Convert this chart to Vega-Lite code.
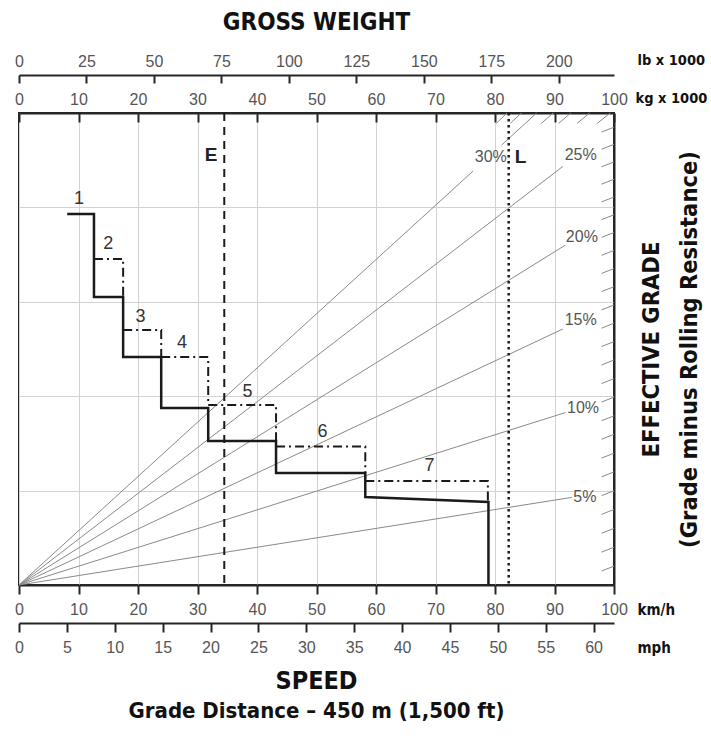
{
  "$schema": "https://vega.github.io/schema/vega-lite/v6.json",
  "width": 595,
  "height": 472,
  "autosize": {"type": "none"},
  "padding": {"left": 19, "top": 113, "right": 97, "bottom": 151},
  "background": "white",
  "config": {
    "view": {"stroke": "#262626", "strokeWidth": 2},
    "font": "Liberation Sans",
    "axis": {"labelFont": "Liberation Sans", "labelFontSize": 16, "labelColor": "#555", "labelFlush": false, "labelOverlap": false, "domainColor": "#262626", "domainWidth": 2, "tickColor": "#262626", "tickWidth": 2, "titleFont": "DejaVu Sans Condensed, sans-serif", "titleFontWeight": "bold", "titleColor": "#111", "grid": false}
  },
  "title": {
    "text": "SPEED",
    "subtitle": "Grade Distance – 450 m (1,500 ft)",
    "orient": "bottom",
    "anchor": "middle",
    "offset": 14,
    "font": "DejaVu Sans Condensed, sans-serif",
    "fontSize": 25,
    "fontWeight": "bold",
    "color": "#111",
    "subtitleFont": "DejaVu Sans Condensed, sans-serif",
    "subtitleFontSize": 22,
    "subtitleFontWeight": "bold",
    "subtitleColor": "#111",
    "subtitlePadding": 7
  },
  "datasets": {
    "grades": [
      {"g": "5", "seg": "a", "o": 0, "x": 0, "y": 0}, {"g": "5", "seg": "a", "o": 1, "x": 92.9, "y": 4.64},
      {"g": "10", "seg": "a", "o": 0, "x": 0, "y": 0}, {"g": "10", "seg": "a", "o": 1, "x": 91.8, "y": 9.13},
      {"g": "15", "seg": "a", "o": 0, "x": 0, "y": 0}, {"g": "15", "seg": "a", "o": 1, "x": 91.4, "y": 13.56},
      {"g": "20", "seg": "a", "o": 0, "x": 0, "y": 0}, {"g": "20", "seg": "a", "o": 1, "x": 91.8, "y": 18.0},
      {"g": "25", "seg": "a", "o": 0, "x": 0, "y": 0}, {"g": "25", "seg": "a", "o": 1, "x": 91.4, "y": 22.17},
      {"g": "30", "seg": "a", "o": 0, "x": 0, "y": 0}, {"g": "30", "seg": "a", "o": 1, "x": 76.3, "y": 21.92},
      {"g": "30", "seg": "b", "o": 0, "x": 81.1, "y": 23.3}, {"g": "30", "seg": "b", "o": 1, "x": 87.0, "y": 25.0}
    ],
    "hatch": [
      {"x": 97.9, "y": 0.74, "x2": 100, "y2": 1.0},
      {"x": 97.9, "y": 1.74, "x2": 100, "y2": 2.0},
      {"x": 97.9, "y": 2.74, "x2": 100, "y2": 3.0},
      {"x": 97.9, "y": 3.74, "x2": 100, "y2": 4.0},
      {"x": 97.9, "y": 4.73, "x2": 100, "y2": 4.99},
      {"x": 97.9, "y": 5.73, "x2": 100, "y2": 5.99},
      {"x": 97.9, "y": 6.72, "x2": 100, "y2": 6.98},
      {"x": 97.9, "y": 7.72, "x2": 100, "y2": 7.98},
      {"x": 97.9, "y": 8.70, "x2": 100, "y2": 8.96},
      {"x": 97.9, "y": 9.69, "x2": 100, "y2": 9.95},
      {"x": 97.9, "y": 10.67, "x2": 100, "y2": 10.93},
      {"x": 97.9, "y": 11.65, "x2": 100, "y2": 11.92},
      {"x": 97.9, "y": 12.63, "x2": 100, "y2": 12.89},
      {"x": 97.9, "y": 13.60, "x2": 100, "y2": 13.87},
      {"x": 97.9, "y": 14.57, "x2": 100, "y2": 14.83},
      {"x": 97.9, "y": 15.54, "x2": 100, "y2": 15.80},
      {"x": 97.9, "y": 16.50, "x2": 100, "y2": 16.76},
      {"x": 97.9, "y": 17.46, "x2": 100, "y2": 17.72},
      {"x": 97.9, "y": 18.41, "x2": 100, "y2": 18.67},
      {"x": 97.9, "y": 19.35, "x2": 100, "y2": 19.61},
      {"x": 97.9, "y": 20.29, "x2": 100, "y2": 20.55},
      {"x": 97.9, "y": 21.23, "x2": 100, "y2": 21.49},
      {"x": 97.9, "y": 22.15, "x2": 100, "y2": 22.41},
      {"x": 97.9, "y": 23.08, "x2": 100, "y2": 23.34},
      {"x": 97.9, "y": 23.99, "x2": 100, "y2": 24.25},
      {"x": 97.18, "y": 24.45, "x2": 99.36, "y2": 25.0},
      {"x": 93.79, "y": 24.45, "x2": 95.90, "y2": 25.0},
      {"x": 90.69, "y": 24.45, "x2": 92.73, "y2": 25.0},
      {"x": 87.79, "y": 24.45, "x2": 89.77, "y2": 25.0},
      {"x": 82.57, "y": 24.45, "x2": 84.43, "y2": 25.0},
      {"x": 80.22, "y": 24.45, "x2": 82.02, "y2": 25.0}
    ],
    "solid": [
      {"o": 0, "x": 8.1, "y": 19.65}, {"o": 1, "x": 12.6, "y": 19.65}, {"o": 2, "x": 12.6, "y": 15.25},
      {"o": 3, "x": 17.5, "y": 15.25}, {"o": 4, "x": 17.5, "y": 12.08}, {"o": 5, "x": 23.9, "y": 12.08},
      {"o": 6, "x": 23.9, "y": 9.37}, {"o": 7, "x": 31.8, "y": 9.37}, {"o": 8, "x": 31.8, "y": 7.63},
      {"o": 9, "x": 43.2, "y": 7.63}, {"o": 10, "x": 43.2, "y": 5.93}, {"o": 11, "x": 58.2, "y": 5.93},
      {"o": 12, "x": 58.2, "y": 4.66}, {"o": 13, "x": 78.9, "y": 4.4}, {"o": 14, "x": 78.9, "y": 0}
    ],
    "dashdot": [
      {"gear": "2", "o": 0, "x": 12.6, "y": 17.27}, {"gear": "2", "o": 1, "x": 17.5, "y": 17.27}, {"gear": "2", "o": 2, "x": 17.5, "y": 15.25},
      {"gear": "3", "o": 0, "x": 17.5, "y": 13.5}, {"gear": "3", "o": 1, "x": 23.9, "y": 13.5}, {"gear": "3", "o": 2, "x": 23.9, "y": 12.08},
      {"gear": "4", "o": 0, "x": 23.9, "y": 12.08}, {"gear": "4", "o": 1, "x": 31.8, "y": 12.08}, {"gear": "4", "o": 2, "x": 31.8, "y": 9.53},
      {"gear": "5", "o": 0, "x": 31.8, "y": 9.53}, {"gear": "5", "o": 1, "x": 43.2, "y": 9.53}, {"gear": "5", "o": 2, "x": 43.2, "y": 7.63},
      {"gear": "6", "o": 0, "x": 43.2, "y": 7.33}, {"gear": "6", "o": 1, "x": 58.2, "y": 7.33}, {"gear": "6", "o": 2, "x": 58.2, "y": 5.93},
      {"gear": "7", "o": 0, "x": 58.2, "y": 5.51}, {"gear": "7", "o": 1, "x": 78.8, "y": 5.51}, {"gear": "7", "o": 2, "x": 78.8, "y": 4.4}
    ],
    "gearlabels": [
      {"t": "1", "x": 10.1, "y": 20.45}, {"t": "2", "x": 15.0, "y": 18.06}, {"t": "3", "x": 20.4, "y": 14.19},
      {"t": "4", "x": 27.4, "y": 12.82}, {"t": "5", "x": 38.4, "y": 10.22}, {"t": "6", "x": 51.0, "y": 8.10},
      {"t": "7", "x": 69.0, "y": 6.30}
    ],
    "gradelabels": [
      {"t": "5%", "x": 95.1, "y": 4.66}, {"t": "10%", "x": 94.8, "y": 9.37}, {"t": "15%", "x": 94.4, "y": 14.04},
      {"t": "20%", "x": 94.6, "y": 18.43}, {"t": "25%", "x": 94.4, "y": 22.78}, {"t": "30%", "x": 79.3, "y": 22.67}
    ],
    "limits": [
      {"t": "E", "x": 32.3, "y": 22.78}, {"t": "L", "x": 84.3, "y": 22.67}
    ]
  },
  "resolve": {"scale": {"x": "independent"}, "axis": {"x": "independent"}},
  "layer": [
    {
      "layer": [
        {
          "data": {"name": "grades"},
          "mark": {"type": "line", "stroke": "#8a8a8a", "strokeWidth": 1},
          "encoding": {
            "x": {"field": "x", "type": "quantitative", "scale": {"domain": [0, 100], "nice": false, "zero": false},
              "axis": {"orient": "bottom", "values": [0, 10, 20, 30, 40, 50, 60, 70, 80, 90, 100], "grid": true, "gridColor": "#d2d2d2", "gridWidth": 1, "tickSize": 9, "labelPadding": 7, "title": "km/h", "titleFontSize": 15, "titleX": 618, "titleY": 24, "titleAlign": "left", "titleAnchor": null, "titleBaseline": "middle", "titleAngle": 0}},
            "y": {"field": "y", "type": "quantitative", "scale": {"domain": [0, 25], "nice": false, "zero": false},
              "axis": {"orient": "right", "values": [0, 5, 10, 15, 20, 25], "grid": true, "gridColor": "#d2d2d2", "gridWidth": 1, "labels": false, "ticks": false, "title": ["EFFECTIVE GRADE", "(Grade minus Rolling Resistance)"], "titleFontSize": 23.5, "titleLineHeight": 38, "titleAngle": 270, "titleX": 37, "titleY": 236, "titleAlign": "center", "titleBaseline": "middle"}},
            "detail": {"field": "seg"},
            "color": {"field": "g", "legend": null, "scale": {"range": ["#8a8a8a"]}},
            "order": {"field": "o"}
          }
        },
        {
          "data": {"name": "hatch"},
          "mark": {"type": "rule", "stroke": "#8a8a8a", "strokeWidth": 1},
          "encoding": {
            "x": {"field": "x", "type": "quantitative"},
            "y": {"field": "y", "type": "quantitative"},
            "x2": {"field": "x2"},
            "y2": {"field": "y2"}
          }
        },
        {
          "data": {"values": [{"x": 34.5}]},
          "mark": {"type": "rule", "stroke": "#1a1a1a", "strokeWidth": 2, "strokeDash": [8, 6]},
          "encoding": {"x": {"field": "x", "type": "quantitative"}}
        },
        {
          "data": {"values": [{"x": 82.3}]},
          "mark": {"type": "rule", "stroke": "#1a1a1a", "strokeWidth": 2.5, "strokeDash": [2.5, 3.5]},
          "encoding": {"x": {"field": "x", "type": "quantitative"}}
        },
        {
          "data": {"name": "solid"},
          "mark": {"type": "line", "stroke": "#1a1a1a", "strokeWidth": 2.5},
          "encoding": {
            "x": {"field": "x", "type": "quantitative"},
            "y": {"field": "y", "type": "quantitative"},
            "order": {"field": "o"}
          }
        },
        {
          "data": {"name": "dashdot"},
          "mark": {"type": "line", "stroke": "#1a1a1a", "strokeWidth": 2, "strokeDash": [9, 4, 2, 4]},
          "encoding": {
            "x": {"field": "x", "type": "quantitative"},
            "y": {"field": "y", "type": "quantitative"},
            "detail": {"field": "gear"},
            "order": {"field": "o"}
          }
        },
        {
          "data": {"name": "gearlabels"},
          "mark": {"type": "text", "font": "Liberation Sans", "fontSize": 18, "fill": "#333", "align": "center", "baseline": "middle"},
          "encoding": {
            "x": {"field": "x", "type": "quantitative"},
            "y": {"field": "y", "type": "quantitative"},
            "text": {"field": "t"}
          }
        },
        {
          "data": {"name": "gradelabels"},
          "mark": {"type": "text", "font": "Liberation Sans", "fontSize": 16, "fill": "#555", "align": "center", "baseline": "middle"},
          "encoding": {
            "x": {"field": "x", "type": "quantitative"},
            "y": {"field": "y", "type": "quantitative"},
            "text": {"field": "t"}
          }
        },
        {
          "data": {"name": "limits"},
          "mark": {"type": "text", "font": "Liberation Sans", "fontSize": 19, "fontWeight": "bold", "fill": "#222", "align": "center", "baseline": "middle"},
          "encoding": {
            "x": {"field": "x", "type": "quantitative"},
            "y": {"field": "y", "type": "quantitative"},
            "text": {"field": "t"}
          }
        }
      ]
    },
    {
      "data": {"values": [{"mph": 0}]},
      "mark": {"type": "rule", "strokeOpacity": 0},
      "encoding": {
        "x": {"field": "mph", "type": "quantitative", "scale": {"domain": [0, 62.137], "nice": false, "zero": false},
          "axis": {"orient": "bottom", "offset": 38, "values": [0, 5, 10, 15, 20, 25, 30, 35, 40, 45, 50, 55, 60], "tickSize": 9, "labelPadding": 7, "title": "mph", "titleFontSize": 15, "titleX": 618, "titleY": 24, "titleAlign": "left", "titleBaseline": "middle", "titleAngle": 0}}
      }
    },
    {
      "data": {"values": [{"kg": 0}]},
      "mark": {"type": "rule", "strokeOpacity": 0},
      "encoding": {
        "x": {"field": "kg", "type": "quantitative", "scale": {"domain": [0, 100], "nice": false, "zero": false},
          "axis": {"orient": "top", "offset": 0, "values": [0, 10, 20, 30, 40, 50, 60, 70, 80, 90, 100], "tickSize": -9, "labelPadding": 15, "title": "kg x 1000", "titleFontSize": 14.5, "titleX": 616, "titleY": -15, "titleAlign": "left", "titleBaseline": "middle", "titleAngle": 0}}
      }
    },
    {
      "data": {"values": [{"lb": 0}]},
      "mark": {"type": "rule", "strokeOpacity": 0},
      "encoding": {
        "x": {"field": "lb", "type": "quantitative", "scale": {"domain": [0, 220.462], "nice": false, "zero": false},
          "axis": {"orient": "top", "offset": 38, "values": [0, 25, 50, 75, 100, 125, 150, 175, 200], "tickSize": -8, "labelPadding": 14, "title": "GROSS WEIGHT", "titleFontSize": 24, "titleX": 297, "titleY": -53, "titleAlign": "center", "titleBaseline": "middle", "titleAngle": 0}}
      }
    },
    {
      "data": {"values": [{"lb2": 0}]},
      "mark": {"type": "rule", "strokeOpacity": 0},
      "encoding": {
        "x": {"field": "lb2", "type": "quantitative", "scale": {"domain": [0, 220.462], "nice": false, "zero": false},
          "axis": {"orient": "top", "offset": 38, "labels": false, "ticks": false, "domain": false, "title": "lb x 1000", "titleFontSize": 14.5, "titleX": 618, "titleY": -15, "titleAlign": "left", "titleBaseline": "middle", "titleAngle": 0}}
      }
    }
  ]
}
